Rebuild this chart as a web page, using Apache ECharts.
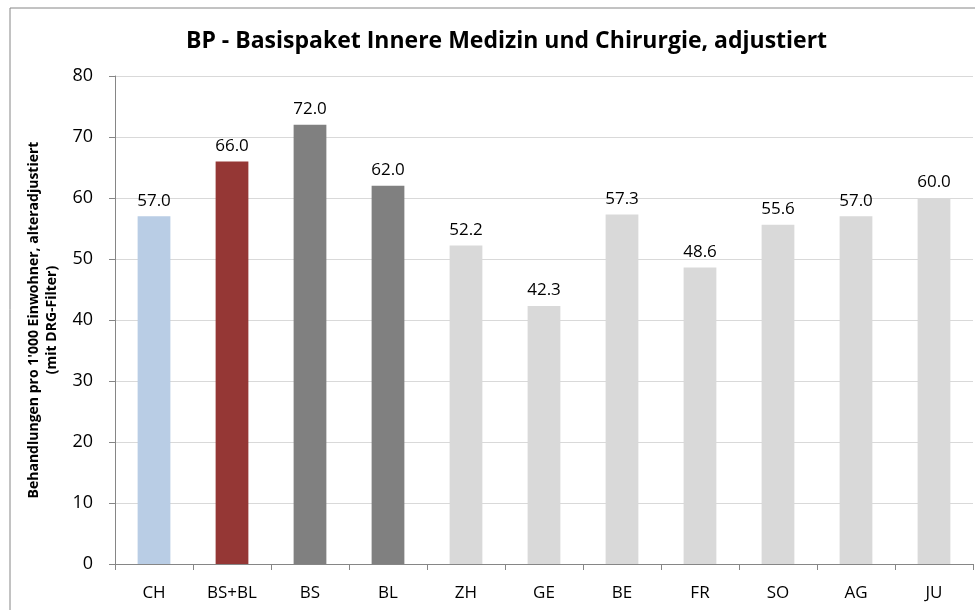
<!DOCTYPE html>
<html>
<head>
<meta charset="utf-8">
<script src="https://cdn.jsdelivr.net/npm/echarts@6/dist/echarts.min.js"></script>
<style>
  html, body { margin: 0; padding: 0; background: #fff; }
  #chart { width: 975px; height: 610px; }
</style>
</head>
<body>
<div id="chart"></div>
<script>
// Kantone und Werte
var categories = ['CH', 'BS+BL', 'BS', 'BL', 'ZH', 'GE', 'BE', 'FR', 'SO', 'AG', 'JU'];
var values = [57.0, 66.0, 72.0, 62.0, 52.2, 42.3, 57.3, 48.6, 55.6, 57.0, 60.0];
var barColors = ['#b9cde5', '#953735', '#808080', '#808080', '#d9d9d9', '#d9d9d9', '#d9d9d9', '#d9d9d9', '#d9d9d9', '#d9d9d9', '#d9d9d9'];

var font = '"Open Sans", sans-serif';

var chart = echarts.init(document.getElementById('chart'));
chart.setOption({
  animation: false,
  title: {
    text: 'BP - Basispaket Innere Medizin und Chirurgie, adjustiert',
    left: 181,
    top: 25,
    textStyle: { fontFamily: font, fontSize: 23, fontWeight: 'bold', color: '#000' }
  },
  graphic: [{
    type: 'rect',
    shape: { x: 10, y: 8, width: 990, height: 640 },
    style: { fill: 'none', stroke: '#868686', lineWidth: 1 },
    silent: true
  }],
  grid: { left: 115, right: 2, top: 76, bottom: 46, containLabel: false },
  xAxis: {
    type: 'category',
    data: categories,
    axisLine: { lineStyle: { color: '#868686' } },
    axisTick: { show: true, length: 6, lineStyle: { color: '#868686' } },
    axisLabel: { fontFamily: font, fontSize: 17, color: '#000', margin: 21 }
  },
  yAxis: {
    type: 'value',
    min: 0,
    max: 80,
    interval: 10,
    name: "Behandlungen pro 1'000 Einwohner, alteradjustiert\n(mit DRG-Filter)",
    nameLocation: 'middle',
    nameGap: 54,
    nameTextStyle: { fontFamily: font, fontSize: 14, fontWeight: 'bold', color: '#000', lineHeight: 18 },
    axisLine: { show: true, lineStyle: { color: '#868686' } },
    axisTick: { show: true, length: 6, lineStyle: { color: '#868686' } },
    axisLabel: { fontFamily: font, fontSize: 18, color: '#000', margin: 22 },
    splitLine: { lineStyle: { color: '#d9d9d9' } }
  },
  series: [{
    type: 'bar',
    barWidth: '42%',
    data: values.map(function (v, i) {
      return { value: v, itemStyle: { color: barColors[i] } };
    }),
    label: {
      show: true,
      position: 'top',
      distance: 7,
      fontFamily: font,
      fontSize: 17,
      color: '#000',
      formatter: function (p) { return p.value.toFixed(1); }
    }
  }]
});
</script>
</body>
</html>
